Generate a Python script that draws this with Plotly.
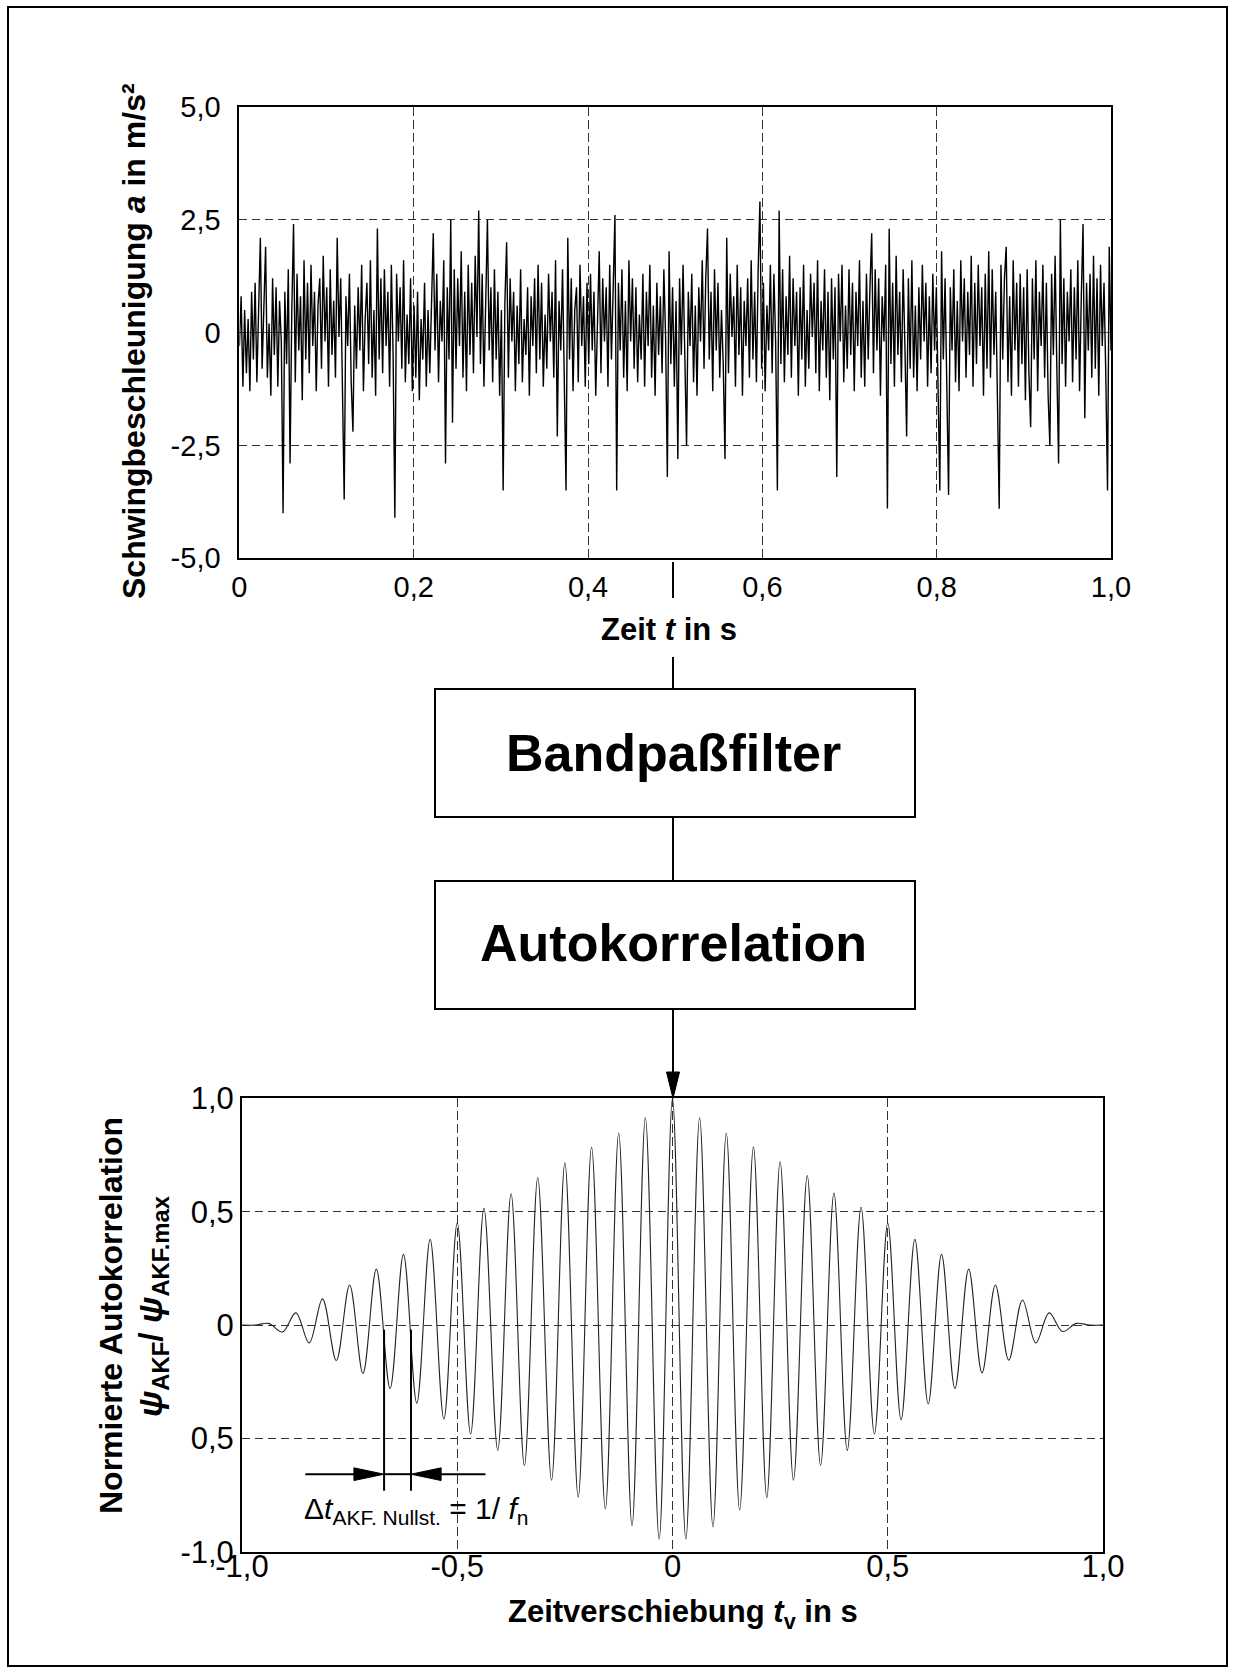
import numpy as np
import plotly.graph_objects as go

W, H = 1236, 1673

# ---------------- data ----------------
# Top: acceleration signal a(t) in tenths of m/s^2 (read/estimated from the picture)
accel_tenths = [
    -3, 8, -12, 5, -9, 3, -13, 9, -6, 11, -11, 4, 21, -8, 6, 19, -10, 2, -14, 12,
    -5, 10, -12, 7, -2, -40, 9, -7, 14, -29, 5, 24, -11, 13, -4, 8, -15, 16, -6, 11,
    -9, 15, -3, 9, -13, 6, 12, -8, 17, -2,
    10, -12, 14, -5, 7, -10, 21, -1, 12, -9, -37, 8, -3, 13, -11, -22, 6, -8, 10, -4,
    15, -13, 3, 11, -7, 16, -10, 5, -14, 23, -6, 12, -9, 14, -3, 9, -12, 15, -5, -41,
    13, -2, 10, -8, 16, -11, 4, -7, 12, -13,
    6, -10, 9, -15, 3, -6, 11, -12, 5, -9, 8, 22, -4, 13, -11, 7, -2, 16, -29, 10,
    -6, 25, -20, 14, -8, 12, -3, 18, -10, 9, -13, 15, -5, 11, -9, 17, -1, 27, -7, 13,
    -12, 8, 25, -4, 10, -11, 14, -6, 9, -14,
    5, -35, 7, 20, -10, 12, -2, 9, -13, 6, -7, 14, -11, 3, -5, 10, -14, 8, -3, 12,
    -9, 15, -6, 11, -12, 4, -8, 13, -2, 9, -10, 16, -23, 7, -4, 14, -9, -35, 21, -6,
    12, -13, 5, 10, -11, 15, -3, 8, -12, 11,
    -7, 13, -4, 9, -14, 6, 18, -9, 12, -2, 10, -12, 15, -6, 8, 26, -35, 11, -4, 14,
    -10, 7, -13, 16, -2, 12, -8, 10, -11, 4, -6, 13, -12, 9, -3, 15, -10, 6, -14, 11,
    -5, 8, -9, 14, -1, -32, 18, -7, 10, -12,
    7, -28, 12, -5, 15, -9, -25, 9, -3, 13, -11, 6, -14, 10, -2, 16, -8, 12, 23, -6,
    9, -13, 14, -4, 11, -10, 5, -7, -28, 21, -9, 13, -1, 8, -12, 15, -5, 10, -14, 7,
    -3, 12, -10, 16, -6, 9, -11, 14, 29, -8,
    11, -13, 6, -4, 15, -9, 13, -2, -35, 27, -7, 14, -11, 8, -5, 17, -10, 12, -3, 9,
    -14, 10, -6, 15, -12, 5, -8, 13, -1, 11, -9, 16, -13, 7, -4, 14, -10, 9, -15, 12,
    -6, 10, -32, 13, -2, 15, -11, 6, -8, 14,
    -5, 11, -13, 9, -3, 16, -10, 7, -12, 13, -6, 10, 22, -9, 14, -4, 12, -14, 8, -2,
    15, -39, 23, -7, 11, -12, 17, -5, 9, -11, 14, -3, -23, 12, -8, 16, -10, 6, -13, 10,
    -6, 15, -2, 11, -12, 8, -9, 13, -4, 10,
    -12, -35, 18, -6, 12, -9, -36, 10, -4, 14, -11, 7, -13, 16, -2, 12, -10, 9, -5, 17,
    -12, 11, -7, 15, -3, 10, -14, 13, -8, 18, -10, 14, -5, 9, -13, -39, 15, -6, 12, 19,
    -11, 8, -14, 16, -4, 11, -12, 13, -7, 10,
    -15, 14, -9, -21, 12, -6, 16, -13, 9, -3, 15, -10, 11, -14, -25, 13, -5, 17, -8, -29,
    25, -7, 12, -12, 9, -2, 14, -11, 10, -6, 16, -13, 8, 24, -19, 11, -4, 13, -10, 17,
    -8, 12, -14, 15, -3, 11, -9, -35, 19, -4,
]

# Bottom: normalised autocorrelation, lag times of the extremes and their values
akf_lag = [
    -1.000, -0.969, -0.938, -0.906, -0.875, -0.844, -0.813, -0.781, -0.750, -0.719,
    -0.688, -0.656, -0.625, -0.594, -0.563, -0.531, -0.500, -0.469, -0.438, -0.406,
    -0.375, -0.344, -0.313, -0.281, -0.250, -0.219, -0.188, -0.156, -0.125, -0.094,
    -0.063, -0.031, 0.000, 0.031, 0.063, 0.094, 0.125, 0.156, 0.188, 0.219,
    0.250, 0.281, 0.313, 0.344, 0.375, 0.406, 0.438, 0.469, 0.500, 0.531,
    0.563, 0.594, 0.625, 0.656, 0.688, 0.719, 0.750, 0.781, 0.813, 0.844,
    0.875, 0.906, 0.938, 0.969, 1.000,
]
akf_val = [
    0.0, 0.0, 0.008, -0.030, 0.054, -0.079, 0.116, -0.156, 0.177, -0.213,
    0.247, -0.279, 0.312, -0.344, 0.378, -0.414, 0.450, -0.480, 0.515, -0.552,
    0.579, -0.619, 0.651, -0.684, 0.716, -0.758, 0.785, -0.810, 0.847, -0.884,
    0.914, -0.943, 1.000, -0.943, 0.914, -0.889, 0.847, -0.815, 0.786, -0.761,
    0.720, -0.684, 0.659, -0.619, 0.582, -0.552, 0.520, -0.480, 0.450, -0.417,
    0.378, -0.347, 0.312, -0.279, 0.247, -0.210, 0.177, -0.154, 0.111, -0.079,
    0.054, -0.028, 0.008, 0.0, 0.0,
]

top_xticks = [0, 0.2, 0.4, 0.6, 0.8, 1.0]
top_xlabels = ["0", "0,2", "0,4", "0,6", "0,8", "1,0"]
top_yticks = [-5, -2.5, 0, 2.5, 5]
top_ylabels = ["-5,0", "-2,5", "0", "2,5", "5,0"]
bot_xticks = [-1.0, -0.5, 0, 0.5, 1.0]
bot_xlabels = ["-1,0", "-0,5", "0", "0,5", "1,0"]
bot_yticks = [-1.0, -0.5, 0, 0.5, 1.0]
bot_ylabels = ["-1,0", "0,5", "0", "0,5", "1,0"]

# zero crossings marking one period 1/f_n
dt_cross = [-0.670, -0.6075]

# ---------------- helpers ----------------
def px(x):
    return x / W


def py(y):
    return 1 - y / H


FONT = "Liberation Sans, Arial, sans-serif"

accel = np.array(accel_tenths) / 10.0
t = np.linspace(0.0, 1.0, len(accel))

fig = go.Figure()
fig.add_trace(go.Scatter(x=t, y=accel, mode="lines",
                         line=dict(color="black", width=1.4),
                         xaxis="x", yaxis="y", showlegend=False, hoverinfo="skip"))
fig.add_trace(go.Scatter(x=akf_lag, y=akf_val, mode="lines",
                         line=dict(color="#222222", width=1.1, shape="spline", smoothing=1.0),
                         xaxis="x2", yaxis="y2", showlegend=False, hoverinfo="skip"))

axis_common = dict(showline=True, mirror=True, linecolor="black", linewidth=2,
                   showgrid=True, gridcolor="#333333", gridwidth=1,
                   ticks="", tickmode="array", fixedrange=True, automargin=False)

TOP_X = (239.4, 1111.0)
TOP_Y = (106.7, 558.3)
BOT_X = (242.0, 1103.0)
BOT_Y = (1098.3, 1552.0)

fig.update_layout(
    template="none",
    width=W, height=H, autosize=False,
    margin=dict(l=0, r=0, t=0, b=0, pad=0),
    paper_bgcolor="white", plot_bgcolor="white",
    showlegend=False,
    xaxis=dict(axis_common, domain=[px(TOP_X[0]), px(TOP_X[1])], range=[0, 1],
               tickvals=top_xticks, ticktext=top_xlabels, griddash="9px,4px",
               zeroline=False, anchor="y", ticklabelstandoff=2,
               tickfont=dict(family=FONT, size=29, color="black")),
    yaxis=dict(axis_common, domain=[py(TOP_Y[1]), py(TOP_Y[0])], range=[-5, 5],
               tickvals=top_yticks, ticktext=top_ylabels, griddash="8px,5px",
               zeroline=True, zerolinecolor="#555555", zerolinewidth=1, anchor="x",
               ticklabelstandoff=11,
               tickfont=dict(family=FONT, size=29, color="black")),
    xaxis2=dict(axis_common, domain=[px(BOT_X[0]), px(BOT_X[1])], range=[-1, 1],
                tickvals=bot_xticks, ticktext=bot_xlabels, griddash="9px,4px",
                zeroline=False, anchor="y2", ticklabelstandoff=-14,
                tickfont=dict(family=FONT, size=31, color="black")),
    yaxis2=dict(axis_common, domain=[py(BOT_Y[1]), py(BOT_Y[0])], range=[-1, 1],
                tickvals=bot_yticks, ticktext=bot_ylabels, griddash="8px,5px",
                zeroline=False, anchor="x2", ticklabelstandoff=0,
                tickfont=dict(family=FONT, size=31, color="black")),
)

shapes = []


def pline(x0, y0, x1, y1, width=2):
    shapes.append(dict(type="line", xref="paper", yref="paper",
                       x0=px(x0), y0=py(y0), x1=px(x1), y1=py(y1),
                       line=dict(color="black", width=width)))


def prect(x0, y0, x1, y1, width=2):
    shapes.append(dict(type="rect", xref="paper", yref="paper",
                       x0=px(x0), y0=py(y0), x1=px(x1), y1=py(y1),
                       line=dict(color="black", width=width), fillcolor="rgba(0,0,0,0)"))


# outer frame
prect(8, 7, 1227, 1666, 2)
# flow chart boxes
prect(435, 689, 915, 817, 2)
prect(435, 881, 915, 1009, 2)
XC = 673
pline(XC, 562, XC, 598)
pline(XC, 657, XC, 689)
pline(XC, 817, XC, 881)
pline(XC, 1009, XC, 1074)
shapes.append(dict(type="path", xref="paper", yref="paper",
                   path="M {:.5f},{:.5f} L {:.5f},{:.5f} L {:.5f},{:.5f} Z".format(
                       px(XC), py(1098.3), px(XC - 6.5), py(1072), px(XC + 6.5), py(1072)),
                   fillcolor="black", line=dict(color="black", width=1)))

# delta-t markers in the autocorrelation plot
y_top, y_bot, y_arr = -0.02, -0.73, -0.657
ah_len, ah_half = 0.07, 0.028
for xc in dt_cross:
    shapes.append(dict(type="line", xref="x2", yref="y2", x0=xc, x1=xc, y0=y_top, y1=y_bot,
                       line=dict(color="black", width=2)))
x_left_start = -0.853
x_right_start = -0.4345
shapes.append(dict(type="line", xref="x2", yref="y2", x0=x_left_start, x1=dt_cross[0] - ah_len,
                   y0=y_arr, y1=y_arr, line=dict(color="black", width=2)))
shapes.append(dict(type="line", xref="x2", yref="y2", x0=x_right_start, x1=dt_cross[1] + ah_len,
                   y0=y_arr, y1=y_arr, line=dict(color="black", width=2)))
shapes.append(dict(type="line", xref="x2", yref="y2", x0=dt_cross[0], x1=dt_cross[1],
                   y0=y_arr, y1=y_arr, line=dict(color="black", width=2)))
shapes.append(dict(type="path", xref="x2", yref="y2",
                   path="M {},{} L {},{} L {},{} Z".format(
                       dt_cross[0], y_arr, dt_cross[0] - ah_len, y_arr + ah_half,
                       dt_cross[0] - ah_len, y_arr - ah_half),
                   fillcolor="black", line=dict(color="black", width=1)))
shapes.append(dict(type="path", xref="x2", yref="y2",
                   path="M {},{} L {},{} L {},{} Z".format(
                       dt_cross[1], y_arr, dt_cross[1] + ah_len, y_arr + ah_half,
                       dt_cross[1] + ah_len, y_arr - ah_half),
                   fillcolor="black", line=dict(color="black", width=1)))

fig.update_layout(shapes=shapes)

annotations = []


def label(text, x, y, size, bold=True, angle=0):
    annotations.append(dict(text=text, x=px(x), y=py(y), xref="paper", yref="paper",
                            xanchor="center", yanchor="middle", showarrow=False,
                            textangle=angle,
                            font=dict(family=FONT, size=size, color="black",
                                      weight="bold" if bold else "normal")))


label("Zeit <i>t</i> in s", 669, 629, 31)
label("Zeitverschiebung <i>t</i><sub>v</sub> in s", 683, 1614, 31)
label("Schwingbeschleunigung <i>a</i> in m/s²", 134, 341, 32, angle=-90)
label("Normierte Autokorrelation", 111, 1316, 32, angle=-90)
label("<i>ψ</i><sub>AKF</sub>/ <i>ψ</i><sub>AKF.max</sub>", 152, 1306, 34, angle=-90)
label("Bandpaßfilter", 673, 753, 52)
label("Autokorrelation", 673, 943, 52)
label("Δ<i>t</i><sub>AKF. Nullst.</sub> = 1/ <i>f</i><sub>n</sub>", 416, 1510, 30, bold=False)

fig.update_layout(annotations=annotations)

fig.write_html("out.html")
